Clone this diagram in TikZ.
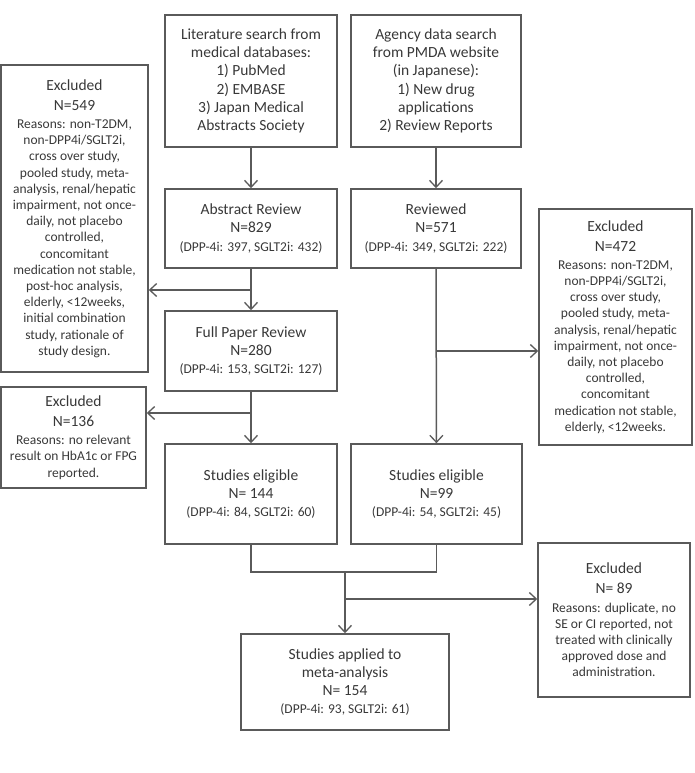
\documentclass[tikz,border=0pt]{standalone}
\usepackage{fontspec}
\setmainfont{Carlito}
\usetikzlibrary{arrows.meta}
\definecolor{txt}{HTML}{383838}
\definecolor{ln}{HTML}{5A5A5A}
\newcommand{\mybig}{\fontsize{15.5}{18.3}\selectfont}
\newcommand{\sml}{\fontsize{13.5}{16.2}\selectfont}
\newcommand{\tstrut}{\rule{0pt}{19pt}}
\newcommand{\rstrut}{\rule{0pt}{17pt}}
\tikzset{
  box/.style={draw=ln, line width=1.5pt, text=txt, align=center, inner sep=2pt, font=\mybig},
  exbox/.style={box, font=\sml},
  arr/.style={draw=ln, line width=1.5pt, -{Straight Barb[length=7pt,width=13pt,line width=1.3pt]}},
  ln/.style={draw=ln, line width=1.5pt}
}
\begin{document}
\begin{tikzpicture}[x=1pt,y=-1pt]
\useasboundingbox (0,0) rectangle (695,773);
% top boxes
\node[box, minimum width=172, minimum height=132] (A) at (251,81)
  {Literature search from\\medical databases:\\1) PubMed\\2) EMBASE\\3) Japan Medical\\Abstracts Society};
\node[box, minimum width=170, minimum height=132] (B) at (436,81)
  {Agency data search\\from PMDA website\\(in Japanese):\\1) New drug\\applications\\2) Review Reports};
% second row
\node[box, minimum width=172, minimum height=79] (AR) at (251,228.5)
  {Abstract Review\\N=829\\\sml (DPP-4i: 397, SGLT2i: 432)};
\node[box, minimum width=170, minimum height=79] (RV) at (436,228.5)
  {Reviewed\\N=571\\\sml (DPP-4i: 349, SGLT2i: 222)};
\node[box, minimum width=172, minimum height=80] (FP) at (251,351)
  {Full Paper Review\\N=280\\\sml (DPP-4i: 153, SGLT2i: 127)};
\node[box, minimum width=172, minimum height=100] (SE1) at (251,494)
  {Studies eligible\\N= 144\\\sml (DPP-4i: 84, SGLT2i: 60)};
\node[box, minimum width=171, minimum height=100] (SE2) at (436.5,494)
  {Studies eligible\\N=99\\\sml (DPP-4i: 54, SGLT2i: 45)};
\node[box, minimum width=208, minimum height=96] (FIN) at (345,682)
  {Studies applied to\\meta-analysis\\N= 154\\\sml (DPP-4i: 93, SGLT2i: 61)};
% excluded boxes
\node[exbox, minimum width=147, minimum height=307] (EXa) at (74.5,218.5)
  {\mybig Excluded\\\mybig\tstrut N=549\\\rstrut Reasons: non-T2DM,\\non-DPP4i/SGLT2i,\\cross over study,\\pooled study, meta-\\analysis, renal/hepatic\\impairment, not once-\\daily, not placebo\\controlled,\\concomitant\\medication not stable,\\post-hoc analysis,\\elderly, <12weeks,\\initial combination\\study, rationale of\\study design.};
\node[exbox, minimum width=153, minimum height=236] (EXb) at (615.5,327)
  {\mybig Excluded\\\mybig\tstrut N=472\\\rstrut Reasons: non-T2DM,\\non-DPP4i/SGLT2i,\\cross over study,\\pooled study, meta-\\analysis, renal/hepatic\\impairment, not once-\\daily, not placebo\\controlled,\\concomitant\\medication not stable,\\elderly, <12weeks.};
\node[exbox, minimum width=145, minimum height=101] (EXc) at (73.5,437.5)
  {\mybig Excluded\\\mybig\tstrut N=136\\\rstrut Reasons: no relevant\\result on HbA1c or FPG\\reported.};
\node[exbox, minimum width=152, minimum height=154] (EXd) at (614,620)
  {\mybig Excluded\\\mybig\tstrut N= 89\\\rstrut Reasons: duplicate, no\\SE or CI reported, not\\treated with clinically\\approved dose and\\administration.};
% connectors
\draw[arr] (A) -- (AR);
\draw[arr] (B) -- (RV);
\draw[arr] (AR) -- (FP);
\coordinate (b1) at (251,290);
\draw[arr] (b1) -- (b1 -| EXa.east);
\draw[arr] (FP) -- (SE1);
\coordinate (b2) at (251,413);
\draw[arr] (b2) -- (b2 -| EXc.east);
\draw[arr] (RV) -- (SE2);
\coordinate (b3) at (436,351);
\draw[arr] (b3) -- (b3 -| EXb.west);
\coordinate (j1) at (251,572);
\coordinate (j2) at (436.5,572);
\draw[ln] (SE1.south) -- (j1) -- (j2) -- (SE2.south);
\coordinate (m) at (345,572);
\draw[arr] (m) -- (FIN);
\coordinate (b4) at (345,599);
\draw[arr] (b4) -- (b4 -| EXd.west);
\end{tikzpicture}
\end{document}
